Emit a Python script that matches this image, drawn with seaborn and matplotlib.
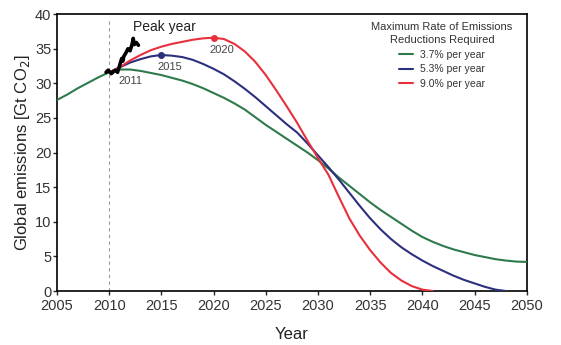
import numpy as np
import pandas as pd
import matplotlib
matplotlib.use("Agg")
import matplotlib.pyplot as plt
import seaborn as sns
from matplotlib.lines import Line2D

years = list(range(2005, 2051))
green = [27.6, 28.4, 29.3, 30.1, 30.9, 31.6, 32.0, 32.0, 31.8, 31.5,
         31.2, 30.8, 30.4, 29.9, 29.3, 28.6, 27.9, 27.1, 26.2, 25.1,
         24.0, 23.0, 22.0, 21.0, 20.0, 18.9, 17.7, 16.4, 15.2, 14.0,
         12.8, 11.7, 10.7, 9.7, 8.7, 7.8, 7.1, 6.5, 6.0, 5.6,
         5.2, 4.9, 4.6, 4.4, 4.25, 4.2]
blue_years = list(range(2010, 2049))
blue = [31.6, 32.3, 33.0, 33.5, 33.9, 34.1, 34.0, 33.8, 33.4, 32.8,
        32.1, 31.3, 30.3, 29.2, 28.0, 26.7, 25.4, 24.1, 22.9, 21.3,
        19.6, 17.9, 16.1, 14.2, 12.3, 10.5, 8.9, 7.5, 6.3, 5.3,
        4.4, 3.6, 2.9, 2.2, 1.6, 1.1, 0.6, 0.2, 0.0]
red_years = list(range(2010, 2042))
red = [31.6, 32.3, 33.3, 34.1, 34.8, 35.3, 35.7, 36.0, 36.3, 36.5,
       36.6, 36.4, 35.7, 34.6, 33.1, 31.2, 29.0, 26.7, 24.3, 21.7,
       19.2, 16.8, 13.6, 10.5, 8.0, 5.9, 4.1, 2.6, 1.5, 0.7,
       0.2, 0.0]
hist_years = [2009.7, 2009.9, 2010.2, 2010.4, 2010.6, 2010.8, 2011.0, 2011.2, 2011.3,
              2011.4, 2011.6, 2011.8, 2012.0, 2012.2, 2012.3, 2012.4, 2012.6, 2012.8]
hist_vals = [31.6, 31.9, 31.4, 31.7, 31.9, 31.6, 32.6, 33.6, 33.2, 33.9,
             34.4, 35.0, 34.7, 35.7, 36.5, 35.6, 35.9, 35.5]

series_labels = ["3.7% per year", "5.3% per year", "9.0% per year"]
colors = ["#2f7a4c", "#2c2f7c", "#e8303c"]
peak_years = [2011, 2015, 2020]
peak_vals = [32.0, 34.1, 36.6]

df = pd.concat([
    pd.DataFrame({"Year": years, "Emissions": green, "Rate": series_labels[0]}),
    pd.DataFrame({"Year": blue_years, "Emissions": blue, "Rate": series_labels[1]}),
    pd.DataFrame({"Year": red_years, "Emissions": red, "Rate": series_labels[2]}),
])

sns.set_style("ticks")
plt.rcParams['font.family'] = ['Liberation Sans', 'DejaVu Sans']

fig = plt.figure(figsize=(5.61, 3.45), dpi=100)
ax = fig.add_axes([0.1016, 0.1565, 0.8374, 0.8025])

ax.axvline(2010, ymin=0, ymax=0.985, color="#999999", lw=0.8, ls=(0, (3, 3)), zorder=1)

sns.lineplot(data=df, x="Year", y="Emissions", hue="Rate",
             palette=dict(zip(series_labels, colors)), linewidth=1.5,
             ax=ax, legend=False, zorder=3)

sns.lineplot(x=hist_years, y=hist_vals, color="black", linewidth=2.6, ax=ax,
             legend=False, zorder=5, sort=False)

for py, pv, c in zip(peak_years[1:], peak_vals[1:], colors[1:]):
    ax.plot(py, pv, "o", color=c, ms=4, zorder=4)

ax.text(2012.0, 30.4, "2011", ha="center", va="center", fontsize=8, color="#444444")
ax.text(2015.8, 32.4, "2015", ha="center", va="center", fontsize=8, color="#444444")
ax.text(2020.8, 34.8, "2020", ha="center", va="center", fontsize=8, color="#444444")
ax.text(2015.3, 38.2, "Peak year", ha="center", va="center", fontsize=10, color="#222222")

ax.set_xlim(2005, 2050)
ax.set_ylim(0, 40)
ax.set_xticks(range(2005, 2051, 5))
ax.set_yticks(range(0, 41, 5))
ax.tick_params(axis="both", direction="out", length=3, width=1, labelsize=10.5,
               labelcolor="#333333")
ax.tick_params(axis="x", pad=3)
ax.tick_params(axis="y", pad=1)
for s in ax.spines.values():
    s.set_visible(True)
    s.set_linewidth(1.2)
    s.set_color("black")

ax.set_xlabel("Year", fontsize=12, color="#222222", labelpad=10)
ax.set_ylabel("Global emissions [Gt CO$_2$]", fontsize=12, color="#222222", labelpad=2)

handles = [Line2D([0], [0], color=c, lw=1.5) for c in colors]
leg = ax.legend(handles, series_labels, title="Maximum Rate of Emissions\nReductions Required",
                loc="upper center", bbox_to_anchor=(442 / 561, 1 - 18 / 345),
                bbox_transform=fig.transFigure, borderaxespad=0, frameon=False,
                fontsize=7.5, title_fontsize=8, handlelength=1.35, handletextpad=0.6,
                labelspacing=0.45, alignment="center")
leg.get_title().set_multialignment("center")
leg.get_title().set_linespacing(1.35)
leg.get_title().set_color("#333333")
for t in leg.get_texts():
    t.set_color("#333333")

fig.savefig("out.png", dpi=100)
